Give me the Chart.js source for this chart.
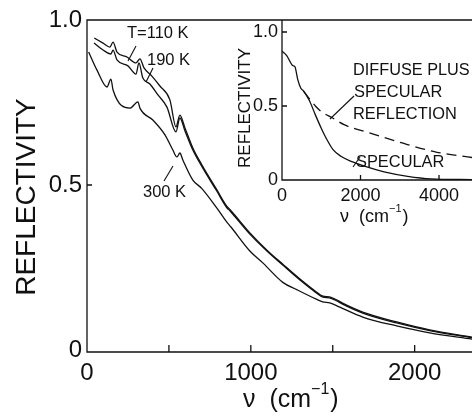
<!DOCTYPE html>
<html>
<head>
<meta charset="utf-8">
<script src="https://cdn.jsdelivr.net/npm/chart.js@4.4.0/dist/chart.umd.min.js"></script>
<style>
  html, body { margin: 0; padding: 0; background: #fff; }
  #wrap { position: relative; width: 472px; height: 416px; overflow: hidden; }
  #mainChart { position: absolute; left: 0; top: 0; }
  #insetChart { position: absolute; left: 230px; top: 0; }
</style>
</head>
<body>
<div id="wrap">
  <canvas id="mainChart" width="472" height="416"></canvas>
  <canvas id="insetChart" width="242" height="230"></canvas>
</div>
<script>
// main panel: reflectivity vs wavenumber (cm-1) at three temperatures
const nu110 = [45, 98, 140, 159, 183, 244, 299, 323, 348, 396, 445, 506, 543, 567, 598, 646, 700, 793, 854, 872, 900, 1000, 1100, 1200, 1300, 1400, 1440, 1480, 1520, 1560, 1683, 1890, 2091, 2350];
const refl110 = [0.945, 0.930, 0.918, 0.933, 0.903, 0.888, 0.870, 0.882, 0.855, 0.830, 0.800, 0.758, 0.676, 0.712, 0.673, 0.612, 0.562, 0.485, 0.435, 0.426, 0.410, 0.352, 0.302, 0.258, 0.215, 0.176, 0.163, 0.161, 0.153, 0.142, 0.115, 0.085, 0.061, 0.039];

const nu190 = [43, 98, 146, 159, 183, 250, 299, 317, 341, 384, 433, 488, 543, 567, 598, 646, 700, 793, 854, 872, 900, 1000, 1100, 1200, 1300, 1400, 1440, 1480, 1520, 1560, 1683, 1890, 2091, 2350];
const refl190 = [0.930, 0.909, 0.897, 0.909, 0.879, 0.861, 0.836, 0.870, 0.824, 0.806, 0.773, 0.736, 0.661, 0.703, 0.664, 0.606, 0.557, 0.481, 0.431, 0.422, 0.406, 0.348, 0.299, 0.255, 0.212, 0.173, 0.160, 0.158, 0.150, 0.139, 0.112, 0.082, 0.059, 0.037];

const nu300 = [10, 61, 122, 146, 159, 262, 311, 323, 402, 476, 524, 549, 567, 585, 646, 700, 793, 850, 880, 994, 1073, 1195, 1280, 1400, 1439, 1482, 1543, 1683, 1890, 2091, 2350];
const refl300 = [0.903, 0.848, 0.797, 0.821, 0.788, 0.733, 0.752, 0.733, 0.697, 0.652, 0.606, 0.585, 0.597, 0.576, 0.515, 0.490, 0.430, 0.390, 0.372, 0.300, 0.264, 0.205, 0.183, 0.154, 0.146, 0.143, 0.130, 0.100, 0.073, 0.052, 0.033];

// inset: specular vs diffuse plus specular
const insetNuSpec = [0, 120, 250, 300, 330, 400, 480, 550, 700, 850, 1000, 1150, 1300, 1500, 1800, 2100, 2600, 3200, 3800, 4840];
const insetReflSpec = [0.87, 0.84, 0.78, 0.77, 0.765, 0.68, 0.62, 0.60, 0.535, 0.44, 0.35, 0.27, 0.205, 0.16, 0.122, 0.093, 0.055, 0.025, 0.008, 0.003];
const insetNuDiff = [550, 650, 850, 1000, 1291, 1595, 2228, 3063, 3924, 4840];
const insetReflDiff = [0.60, 0.565, 0.50, 0.462, 0.419, 0.372, 0.318, 0.250, 0.189, 0.152];

const mainXTicks = [0, 500, 1000, 1500, 2000];
const mainXLabelled = [0, 1000, 2000];
const mainYTicks = [0, 0.5, 1.0];
const insetXTicks = [0, 2000, 4000];
const insetYTicks = [0, 0.5, 1.0];

const INK = "#111";
const FONT = "'Liberation Sans', Arial, sans-serif";

function pts(xs, ys) {
    return xs.map((v, i) => ({ x: v, y: ys[i] }));
}

function line(data, dash) {
    return {
        data: data,
        borderColor: INK,
        borderWidth: 1.3,
        borderDash: dash || [],
        pointRadius: 0,
        fill: false,
        cubicInterpolationMode: "monotone"
    };
}

function drawNuTitle(ctx, x, y, size) {
    ctx.font = size + "px " + FONT;
    ctx.textAlign = "left";
    ctx.textBaseline = "middle";
    const s1 = "\u03BD  (cm";
    ctx.fillText(s1, x, y);
    const w1 = ctx.measureText(s1).width;
    ctx.font = Math.round(size * 0.62) + "px " + FONT;
    ctx.fillText("\u22121", x + w1, y - size * 0.42);
    const w2 = ctx.measureText("\u22121").width;
    ctx.font = size + "px " + FONT;
    ctx.fillText(")", x + w1 + w2 + 1, y);
}

function drawVertical(ctx, text, cx, cy, size) {
    ctx.save();
    ctx.translate(cx, cy);
    ctx.rotate(-Math.PI / 2);
    ctx.font = size + "px " + FONT;
    ctx.textAlign = "center";
    ctx.textBaseline = "middle";
    ctx.fillText(text, 0, 0);
    ctx.restore();
}

function drawLabel(ctx, text, x, y, size) {
    ctx.font = size + "px " + FONT;
    ctx.textAlign = "left";
    ctx.textBaseline = "middle";
    ctx.fillText(text, x, y);
}

function seg(ctx, x1, y1, x2, y2) {
    ctx.beginPath();
    ctx.moveTo(x1, y1);
    ctx.lineTo(x2, y2);
    ctx.stroke();
}

const mainDecor = {
    id: "mainDecor",
    afterDraw(chart) {
        const ctx = chart.ctx, a = chart.chartArea;
        const xs = chart.scales.x, ys = chart.scales.y;
        ctx.save();
        ctx.strokeStyle = INK;
        ctx.fillStyle = INK;
        ctx.lineWidth = 1.3;
        ctx.beginPath();
        ctx.moveTo(a.right, a.top);
        ctx.lineTo(a.left, a.top);
        ctx.lineTo(a.left, a.bottom);
        ctx.lineTo(a.right, a.bottom);
        mainXTicks.forEach(v => {
            if (v === 0) return;
            const px = xs.getPixelForValue(v);
            ctx.moveTo(px, a.bottom);
            ctx.lineTo(px, a.bottom - 7);
        });
        const p5 = ys.getPixelForValue(0.5);
        ctx.moveTo(a.left, p5);
        ctx.lineTo(a.left + 5, p5);
        ctx.stroke();

        drawVertical(ctx, "REFLECTIVITY", 27, 197, 28);
        drawNuTitle(ctx, 243, 400, 25);

        drawLabel(ctx, "T=110 K", 127, 33, 16.5);
        drawLabel(ctx, "190 K", 147, 60, 16.5);
        drawLabel(ctx, "300 K", 143, 192, 16.5);
        ctx.lineWidth = 1.1;
        seg(ctx, 136, 46, 128, 61);
        seg(ctx, 153, 68, 146, 82);
        seg(ctx, 164, 181, 173, 166);
        ctx.restore();
    }
};

const insetDecor = {
    id: "insetDecor",
    afterDraw(chart) {
        const ctx = chart.ctx, a = chart.chartArea;
        const xs = chart.scales.x, ys = chart.scales.y;
        ctx.save();
        ctx.strokeStyle = INK;
        ctx.fillStyle = INK;
        ctx.lineWidth = 1.3;
        ctx.beginPath();
        ctx.moveTo(a.left, a.top);
        ctx.lineTo(a.left, a.bottom);
        ctx.lineTo(a.right, a.bottom);
        insetXTicks.forEach(v => {
            if (v === 0) return;
            const px = xs.getPixelForValue(v);
            ctx.moveTo(px, a.bottom);
            ctx.lineTo(px, a.bottom - 5);
        });
        insetYTicks.forEach(v => {
            if (v === 0) return;
            const py = ys.getPixelForValue(v);
            ctx.moveTo(a.left, py);
            ctx.lineTo(a.left + 5, py);
        });
        ctx.stroke();

        // coordinates here are relative to the inset canvas (left 230)
        drawVertical(ctx, "REFLECTIVITY", 15, 108, 17);
        drawNuTitle(ctx, 110, 217, 18);

        drawLabel(ctx, "DIFFUSE PLUS", 123, 71, 16.3);
        drawLabel(ctx, "SPECULAR", 124, 92, 16.4);
        drawLabel(ctx, "REFLECTION", 123, 114, 16.4);
        drawLabel(ctx, "SPECULAR", 126, 162, 16.4);
        ctx.lineWidth = 1.1;
        seg(ctx, 124, 96, 100, 119);
        seg(ctx, 123, 167, 130, 157);
        ctx.restore();
    }
};

new Chart(document.getElementById("mainChart").getContext("2d"), {
    type: "line",
    data: {
        datasets: [
            line(pts(nu110, refl110)),
            line(pts(nu190, refl190)),
            line(pts(nu300, refl300))
        ]
    },
    options: {
        responsive: false,
        animation: false,
        devicePixelRatio: 1,
        layout: { padding: { top: 20, right: 0, left: 0, bottom: 0 } },
        plugins: { legend: { display: false }, tooltip: { enabled: false } },
        scales: {
            x: {
                type: "linear",
                min: 0,
                max: 2350,
                afterBuildTicks: s => { s.ticks = mainXTicks.map(v => ({ value: v })); },
                afterFit: s => { s.height = 64; },
                grid: { display: false, drawTicks: false },
                border: { display: false },
                ticks: {
                    color: INK,
                    padding: 7,
                    maxRotation: 0,
                    autoSkip: false,
                    font: { family: FONT, size: 24 },
                    callback: v => mainXLabelled.includes(v) ? String(v) : ""
                }
            },
            y: {
                min: -0.006,
                max: 1.0,
                afterBuildTicks: s => { s.ticks = mainYTicks.map(v => ({ value: v })); },
                afterFit: s => { s.width = 87; },
                grid: { display: false, drawTicks: false },
                border: { display: false },
                ticks: {
                    color: INK,
                    padding: 5,
                    autoSkip: false,
                    font: { family: FONT, size: 24 },
                    callback: v => v === 0 ? "0" : v.toFixed(1)
                }
            }
        }
    },
    plugins: [mainDecor]
});

new Chart(document.getElementById("insetChart").getContext("2d"), {
    type: "line",
    data: {
        datasets: [
            line(pts(insetNuSpec, insetReflSpec)),
            line(pts(insetNuDiff, insetReflDiff), [10, 6])
        ]
    },
    options: {
        responsive: false,
        animation: false,
        devicePixelRatio: 1,
        layout: { padding: { top: 20, right: 0, left: 0, bottom: 0 } },
        plugins: { legend: { display: false }, tooltip: { enabled: false } },
        scales: {
            x: {
                type: "linear",
                min: 0,
                max: 4840,
                afterBuildTicks: s => { s.ticks = insetXTicks.map(v => ({ value: v })); },
                afterFit: s => { s.height = 50; },
                grid: { display: false, drawTicks: false },
                border: { display: false },
                ticks: {
                    color: INK,
                    padding: 5,
                    maxRotation: 0,
                    autoSkip: false,
                    font: { family: FONT, size: 18 },
                    callback: v => String(v)
                }
            },
            y: {
                min: 0,
                max: 1.081,
                afterBuildTicks: s => { s.ticks = insetYTicks.map(v => ({ value: v })); },
                afterFit: s => { s.width = 52; },
                grid: { display: false, drawTicks: false },
                border: { display: false },
                ticks: {
                    color: INK,
                    padding: 4,
                    autoSkip: false,
                    font: { family: FONT, size: 18 },
                    callback: v => v === 0 ? "0" : v.toFixed(1)
                }
            }
        }
    },
    plugins: [insetDecor]
});
</script>
</body>
</html>
